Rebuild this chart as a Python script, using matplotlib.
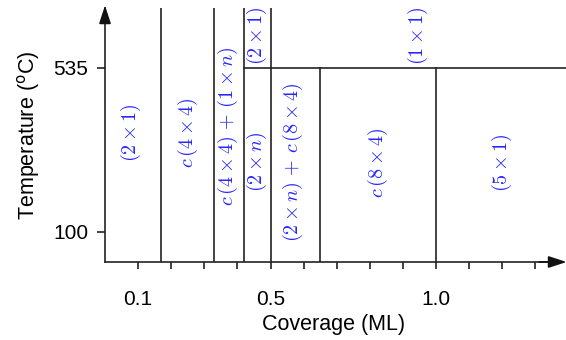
import matplotlib
matplotlib.use("Agg")
import matplotlib.pyplot as plt

# phase boundaries (coverage in ML)
bounds_full = [0.17, 0.33, 0.42, 0.50]   # lines going all the way up
bounds_low = [0.65, 1.0]                  # lines ending at the 535 line
T_high = 535
x_hline_start = 0.42

# phase labels: text, coverage, temperature
labels = [r"$(2\times1)$", r"$c\,(4\times4)$", r"$c\,(4\times4)\,+\,(1\times n)$",
          r"$(2\times1)$", r"$(2\times n)$", r"$(2\times n)\,+\,c\,(8\times4)$",
          r"$c\,(8\times4)$", r"$(5\times1)$", r"$(1\times1)$"]
label_x = [0.079, 0.25, 0.37, 0.46, 0.46, 0.568, 0.825, 1.20, 0.946]
label_y = [362, 362, 380, 619, 285, 285, 282, 282, 619]

xmajor = [0.1, 0.5, 1.0]
xmajor_lbl = ["0.1", "0.5", "1.0"]
xminor = [0.2, 0.3, 0.4, 0.6, 0.7, 0.8, 0.9, 1.1, 1.2, 1.3]
yticks = [100, 535]

plt.rcParams['font.family'] = ['Liberation Sans', 'DejaVu Sans']

fig = plt.figure(figsize=(5.66, 3.4), dpi=100)
ax = fig.add_axes([105/566, 78/340, (562-105)/566, (262-8)/340])
ax.set_xlim(0, (562-105)/331)
ax.set_ylim(19.6, 693)

for s in ["top", "right"]:
    ax.spines[s].set_visible(False)
for s in ["left", "bottom"]:
    ax.spines[s].set_linewidth(1.2)
    ax.spines[s].set_color("#222222")

lc = "#222222"
for b in bounds_full:
    ax.axvline(b, color=lc, lw=1.2)
for b in bounds_low:
    ax.plot([b, b], [19.6, T_high], color=lc, lw=1.2)
ax.plot([x_hline_start, 1.4], [T_high, T_high], color=lc, lw=1.2, clip_on=False)

for t, x, y in zip(labels, label_x, label_y):
    ax.text(x, y, t, rotation=90, ha="center", va="center", color="#2525ff",
            fontsize=14.5, math_fontfamily="cm")

# axis arrows
arrow = dict(arrowstyle="-|>,head_length=0.55,head_width=0.18",
             color="#111111", lw=1.2, mutation_scale=20, shrinkA=0, shrinkB=0)
ax.annotate("", xy=(1.01, 0), xycoords="axes fraction", xytext=(0.95, 0),
            arrowprops=arrow)
ax.annotate("", xy=(0, 1.01), xycoords="axes fraction", xytext=(0, 0.95),
            arrowprops=arrow)

ax.set_xticks(xmajor)
ax.set_xticklabels(xmajor_lbl)
ax.set_xticks(xminor, minor=True)
ax.set_yticks(yticks)
ax.tick_params(axis="x", which="both", length=5, width=1.2, color="#222222",
               labelsize=15, pad=15)
ax.tick_params(axis="y", length=6, width=1.2, color="#222222", labelsize=15, pad=6)

ax.set_xlabel("Coverage (ML)", fontsize=15.5, labelpad=4)
ax.set_ylabel(r"Temperature ($^{\mathrm{o}}$C)", fontsize=15.5, labelpad=8,
              math_fontfamily="dejavusans")

fig.savefig("out.png", dpi=100)
